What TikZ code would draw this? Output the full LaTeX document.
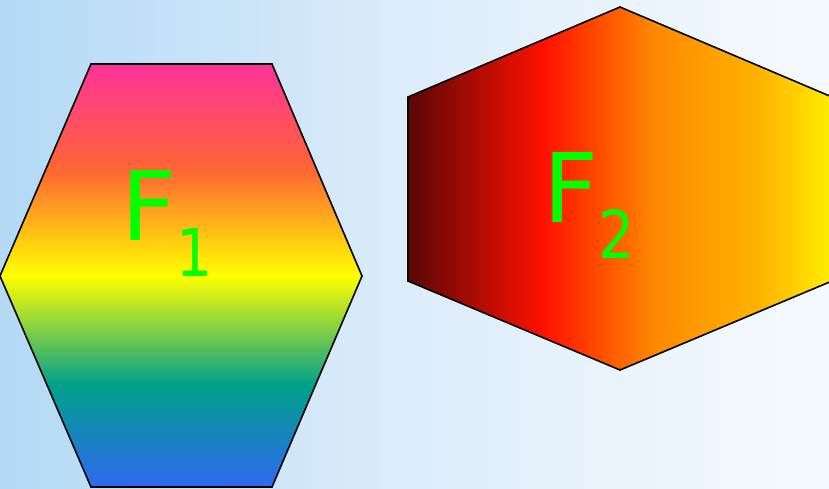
\documentclass[tikz,border=0pt]{standalone}
\usepackage{fontspec}
\setmainfont{DejaVu Sans}
\usepackage{xcolor}
\usepackage{tikz}
\usetikzlibrary{positioning}
\definecolor{skyleft}{HTML}{B3D9F5}
\definecolor{skymid}{HTML}{DDEDFA}
\definecolor{skyright}{HTML}{F6FAFE}
\definecolor{hpink}{HTML}{FF3399}
\definecolor{horange}{HTML}{FF6633}
\definecolor{hyellow}{HTML}{FFFF00}
\definecolor{hteal}{HTML}{00A08A}
\definecolor{hblue}{HTML}{3068F0}
\definecolor{rdark}{HTML}{5A0606}
\definecolor{rred}{HTML}{FF1100}
\definecolor{rorange}{HTML}{FF8800}
\definecolor{ramber}{HTML}{FFB300}
\definecolor{ryellow}{HTML}{FFEE00}
\definecolor{lettergreen}{HTML}{00FF00}
\pgfdeclareverticalshading{fonefill}{100bp}{
  color(0bp)=(hblue); color(25bp)=(hblue); color(37.1bp)=(hteal);
  color(50bp)=(hyellow); color(62.5bp)=(horange); color(75bp)=(hpink);
  color(100bp)=(hpink)}
\pgfdeclarehorizontalshading{ftwofill}{100bp}{
  color(0bp)=(rdark); color(25bp)=(rdark); color(41bp)=(rred);
  color(54bp)=(rorange); color(66.5bp)=(ramber); color(75bp)=(ryellow);
  color(100bp)=(ryellow)}
\tikzset{
    hexface/.style={draw=black,line width=1.6pt,line join=miter},
    flabel/.style={text=lettergreen,inner sep=0pt,anchor=base west,
      font=\fontsize{96}{96}\selectfont}
}
\newcommand{\fsub}[1]{\raisebox{-36pt}{\scalebox{0.86}[1]{\fontsize{66}{66}\selectfont #1}}}

\begin{document}
\begin{tikzpicture}[x=1pt,y=-1pt]
  \useasboundingbox (0,0) rectangle (829,488);
  % sky background
  \shade[left color=skyleft,right color=skyright,middle color=skymid]
    (0,0) rectangle (829,488);

  % first hexagon, flat top
  \shade[hexface,shading=fonefill]
    (91,64) -- (272,64) -- (362,276) -- (272,487) -- (91,487) -- (0,276) -- cycle;
  % second hexagon, pointed top
  \shade[hexface,shading=ftwofill]
    (408,97) -- (620,7) -- (832,97) -- (832,281) -- (620,370) -- (408,281) -- cycle;

  \node[flabel] (fone) at (121,240) {F\fsub{1}};
  \node[flabel] (ftwo) at (543,222) {F\fsub{2}};
\end{tikzpicture}
\end{document}
